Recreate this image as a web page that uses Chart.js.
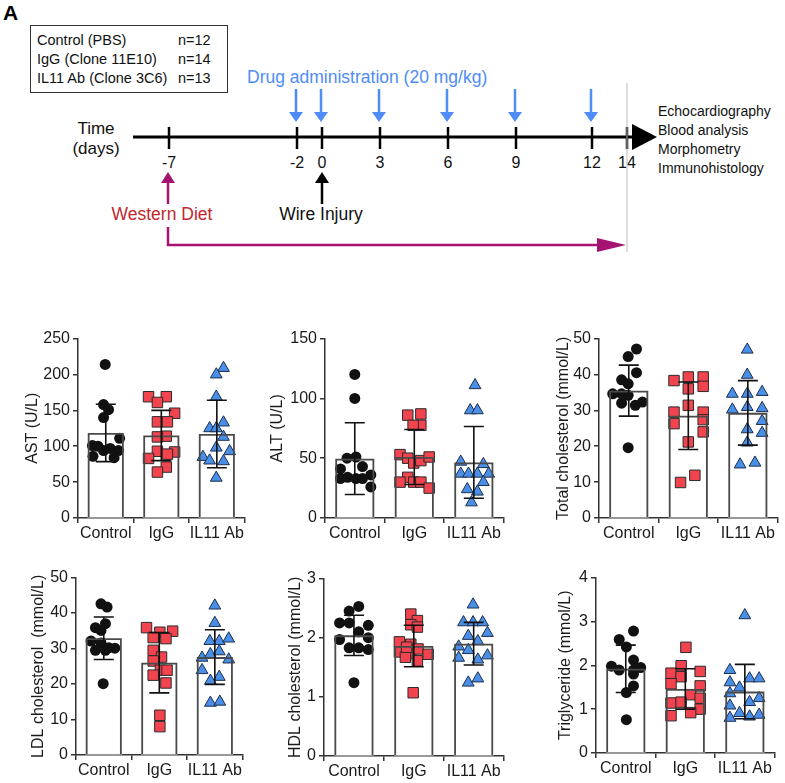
<!DOCTYPE html>
<html>
<head>
<meta charset="utf-8">
<script src="https://cdn.jsdelivr.net/npm/chart.js@4.4.1/dist/chart.umd.min.js"></script>
<style>
  html, body { margin: 0; padding: 0; background: #fff; }
  body { width: 785px; height: 783px; position: relative; overflow: hidden; font-family: "Liberation Sans", Arial, sans-serif; }
  #schema { position: absolute; left: 0; top: 0; }
  .panel { position: absolute; }
</style>
</head>
<body>
<svg id="schema" width="785" height="300" xmlns="http://www.w3.org/2000/svg" font-family="Liberation Sans, Arial, sans-serif">
  <text x="3" y="20" font-size="21" font-weight="bold">A</text>
  <rect x="30.5" y="25.5" width="197" height="67" fill="none" stroke="#333" stroke-width="1"/>
  <g font-size="14.5" fill="#111">
    <text x="37" y="45">Control (PBS)</text><text x="178" y="45">n=12</text>
    <text x="37" y="64">IgG (Clone 11E10)</text><text x="178" y="64">n=14</text>
    <text x="37" y="83">IL11 Ab (Clone 3C6)</text><text x="178" y="83">n=13</text>
  </g>
  <text x="247" y="83" font-size="17.5" fill="#4f8cf6">Drug administration (20 mg/kg)</text>
  <g id="drugArrows" fill="#4f8cf6" stroke="#4f8cf6"></g>
  <line x1="133" y1="137" x2="636" y2="137" stroke="#000" stroke-width="3"/>
  <polygon points="632,124 657,137 632,150" fill="#000"/>
  <g id="dayTicks"></g>
  <g font-size="17" fill="#111" text-anchor="middle">
    <text x="96" y="134">Time</text>
    <text x="96" y="154">(days)</text>
  </g>
  <line x1="627" y1="83" x2="627" y2="252" stroke="#bdbdbd" stroke-width="1"/>
  <g font-size="14" fill="#111">
    <text x="658" y="116">Echocardiography</text>
    <text x="658" y="135">Blood analysis</text>
    <text x="658" y="154">Morphometry</text>
    <text x="658" y="173">Immunohistology</text>
  </g>
  <line x1="168" y1="204" x2="168" y2="181" stroke="#a3136f" stroke-width="2.5"/>
  <polygon points="161,183 175,183 168,172" fill="#a3136f"/>
  <text x="162" y="220" font-size="17.5" fill="#c1272d" text-anchor="middle">Western Diet</text>
  <line x1="322" y1="204" x2="322" y2="181" stroke="#000" stroke-width="2.5"/>
  <polygon points="315,183 329,183 322,172" fill="#000"/>
  <text x="321" y="220" font-size="17.5" fill="#111" text-anchor="middle">Wire Injury</text>
  <polyline points="168,227 168,245 600,245" fill="none" stroke="#a3136f" stroke-width="2.5"/>
  <polygon points="597,238 626,245 597,252" fill="#a3136f"/>
  <text x="3" y="336" font-size="21" font-weight="bold">B</text>
</svg>
<div id="charts"></div>
<script>
// timeline (schematic)
const dayLabels = ['-7', '-2', '0', '3', '6', '9', '12', '14'];
const drugDays = ['-2', '0', '3', '6', '9', '12'];
const dayPos = { '-7': 169, '-2': 297, '0': 322, '3': 380, '6': 448, '9': 516, '12': 592, '14': 627 };

// panel B data
const groupLabels = ['Control', 'IgG', 'IL11 Ab'];

const astValues = [
  [214, 158, 151, 140, 111, 101, 100, 97, 94, 94, 86, 84],
  [169, 169, 161, 146, 134, 134, 114, 113, 93, 92, 89, 83, 71, 64],
  [209, 200, 169, 133, 125, 125, 113, 98, 93, 85, 80, 79, 56]
];
const astJitter = [
  [-0.01, -0.04, 0.05, -0.04, 0.25, -0.24, -0.14, 0.08, -0.04, 0.23, -0.23, 0.15],
  [-0.23, 0.09, -0.07, 0.24, -0.07, 0.11, 0.09, -0.07, -0.07, 0.24, 0.11, -0.23, 0.09, -0.07],
  [0.12, -0.01, -0.01, 0.12, -0.13, -0.01, 0.12, -0.01, 0.23, -0.25, -0.13, 0.12, -0.01]
];
const astMean = [118.5, 115, 117];
const astSd = [40, 35, 47];

const altValues = [
  [120, 100, 50, 51, 41, 43, 33, 34, 33, 33, 36, 26],
  [86, 87, 77.5, 77.5, 53, 50, 46, 48, 51, 34, 30, 30, 30, 25],
  [111, 90, 90, 47, 45, 37, 37, 37, 37, 30, 24, 22, 13]
];
const altJitter = [
  [0, 0, -0.13, 0.02, -0.24, 0.13, -0.24, -0.12, 0.02, 0.13, 0.27, 0.27],
  [-0.11, 0.11, 0.11, -0.02, -0.24, -0.11, -0.01, 0.11, 0.25, -0.11, -0.24, -0.01, 0.11, 0.25],
  [0.02, -0.06, 0.06, -0.22, 0.16, -0.22, -0.09, 0.06, 0.25, 0.16, -0.11, 0.06, -0.04]
];
const altMean = [49.6, 51, 46.5];
const altSd = [30, 23, 30];

const tcValues = [
  [47.1, 45.0, 40.5, 38.5, 37.4, 34.6, 34.2, 32.0, 31.4, 32.3, 19.6, 34.6],
  [38.3, 39.3, 39.3, 36.0, 36.7, 31.4, 29.5, 29.5, 26.3, 27.4, 24.0, 21.2, 11.9, 9.9],
  [46.9, 39.9, 34.6, 34.6, 35.1, 30.9, 30.2, 30.6, 27.0, 24.7, 23.7, 21.0, 14.9, 15.4]
];
const tcJitter = [
  [0.13, -0.01, 0.13, -0.12, -0.01, -0.27, -0.01, -0.12, 0.11, 0.23, -0.01, -0.12],
  [-0.24, 0, 0.25, 0, 0.25, 0, -0.24, 0.25, -0.24, 0.25, 0.25, 0, 0.11, -0.13],
  [-0.01, -0.01, -0.26, -0.01, 0.24, -0.01, -0.26, 0.24, 0.24, -0.01, 0.24, -0.01, -0.13, 0.12]
];
const tcMean = [35.5, 28.5, 29.3];
const tcSd = [7.1, 9.4, 9.0];

const ldlValues = [
  [42.6, 41.7, 35.9, 37.0, 35.1, 32.1, 31.6, 29.5, 29.5, 30.1, 30.2, 20.1],
  [35.9, 34.6, 34.9, 33.1, 32.8, 29.5, 27.6, 26.5, 23.9, 23.9, 22.5, 20.3, 11.2, 8.0],
  [42.1, 37.2, 32.1, 32.1, 32.8, 28.4, 29.2, 27.4, 26.9, 23.9, 22.0, 20.9, 14.7, 15.0]
];
const ldlJitter = [
  [-0.05, 0.06, -0.15, 0.03, -0.05, -0.23, -0.05, -0.15, 0.03, 0.2, 0.09, -0.01],
  [-0.23, 0.01, 0.24, -0.11, 0.12, -0.11, 0.04, -0.11, 0.02, 0.14, -0.11, 0.12, 0.01, 0.01],
  [0, 0, -0.09, 0.08, 0.25, -0.08, 0.08, -0.23, 0.25, -0.23, 0.08, -0.08, -0.08, 0.09]
];
const ldlMean = [32.9, 26, 27.6];
const ldlSd = [6.0, 8.5, 7.7];

const hdlValues = [
  [2.53, 2.45, 2.25, 2.25, 2.21, 2.10, 2.0, 1.97, 1.83, 1.83, 1.80, 1.24],
  [2.40, 2.29, 2.22, 2.18, 1.93, 1.89, 1.76, 1.73, 1.81, 1.67, 1.61, 1.72, 1.07, 1.84],
  [2.56, 2.26, 2.26, 2.26, 2.03, 2.08, 1.94, 1.85, 1.79, 1.66, 1.63, 1.70, 1.24, 1.31]
];
const hdlJitter = [
  [0.08, -0.08, -0.24, -0.08, 0.24, 0.08, 0.24, -0.24, -0.08, 0.08, 0.24, 0],
  [-0.05, 0.06, -0.05, 0.06, -0.24, -0.05, -0.24, -0.05, 0.07, -0.14, 0.06, 0.24, -0.01, -0.12],
  [-0.01, -0.17, -0.01, 0.15, -0.09, 0.23, 0.07, -0.25, -0.09, -0.25, 0.07, 0.23, -0.09, 0.07]
];
const hdlMean = [2.04, 1.86, 1.90];
const hdlSd = [0.34, 0.35, 0.36];

const tgValues = [
  [2.78, 2.59, 2.42, 2.12, 1.98, 1.89, 1.89, 1.95, 1.80, 1.53, 1.38, 0.76],
  [2.41, 1.99, 1.82, 1.74, 1.86, 1.58, 1.53, 1.33, 1.25, 1.14, 1.16, 1.0, 0.92, 0.85],
  [3.14, 1.89, 1.61, 1.70, 1.70, 1.49, 1.36, 1.25, 1.16, 1.08, 0.91, 0.83, 0.87, 0.80]
];
const tgJitter = [
  [0.13, -0.11, 0.01, 0.13, -0.24, -0.11, 0.13, 0.25, 0.13, 0.13, 0.01, 0.01],
  [0.01, -0.07, -0.24, -0.07, 0.25, -0.24, 0.25, 0.09, 0.25, -0.24, -0.07, 0.25, 0.09, -0.24],
  [0, -0.25, -0.25, 0.08, 0.24, -0.09, -0.25, 0.24, 0.08, -0.25, -0.09, 0.08, 0.24, -0.25]
];
const tgMean = [1.92, 1.46, 1.40];
const tgSd = [0.54, 0.46, 0.62];

// draw the schematic ticks and arrows
const svgNS = 'http://www.w3.org/2000/svg';
function svgEl(tag, attrs, parent) {
  const el = document.createElementNS(svgNS, tag);
  Object.entries(attrs).forEach(([k, v]) => el.setAttribute(k, v));
  parent.appendChild(el);
  return el;
}
const tickGroup = document.getElementById('dayTicks');
dayLabels.forEach(d => {
  const x = dayPos[d];
  svgEl('line', { x1: x, y1: 127, x2: x, y2: 149, stroke: '#000', 'stroke-width': 2.5 }, tickGroup);
  const t = svgEl('text', { x: x, y: 168, 'font-size': 16, 'text-anchor': 'middle', fill: '#111' }, tickGroup);
  t.textContent = d;
});
const arrowGroup = document.getElementById('drugArrows');
drugDays.forEach(d => {
  const x = dayPos[d] - 1;
  svgEl('line', { x1: x, y1: 89, x2: x, y2: 113, 'stroke-width': 2.5 }, arrowGroup);
  svgEl('polygon', { points: `${x - 7},112 ${x + 7},112 ${x},122`, stroke: 'none' }, arrowGroup);
});

// bar + scatter panels
const FONT = '"Liberation Sans", Arial, sans-serif';
const TEXT = '#1a1a1a';
const AXIS = '#333';

const groupStyle = [
  { pointStyle: 'circle', radius: 5.5, fill: '#111111', border: '#111111' },
  { pointStyle: 'rect', radius: 7.4, fill: '#f2444f', border: '#2b2b2b' },
  { pointStyle: 'triangle', radius: 6.8, fill: '#4a8fe7', border: '#1d2f4d' }
];

const panels = [
  { title: 'AST (U/L)', values: astValues, jitter: astJitter, mean: astMean, sd: astSd, max: 250, step: 50,
    box: { cl: 23, L: 78, R: 249, T: 338, B: 518 } },
  { title: 'ALT (U/L)', values: altValues, jitter: altJitter, mean: altMean, sd: altSd, max: 150, step: 50,
    box: { cl: 268, L: 325, R: 508, T: 338, B: 518 } },
  { title: 'Total cholesterol (mmol/L)', values: tcValues, jitter: tcJitter, mean: tcMean, sd: tcSd, max: 50, step: 10,
    box: { cl: 554, L: 599, R: 782, T: 338, B: 518 } },
  { title: 'LDL cholesterol  (mmol/L)', values: ldlValues, jitter: ldlJitter, mean: ldlMean, sd: ldlSd, max: 50, step: 10,
    box: { cl: 29, L: 76, R: 247, T: 577, B: 755 } },
  { title: 'HDL cholesterol (mmol/L)', values: hdlValues, jitter: hdlJitter, mean: hdlMean, sd: hdlSd, max: 3, step: 1,
    box: { cl: 286, L: 324, R: 508, T: 578, B: 756 } },
  { title: 'Triglyceride (mmol/L)', values: tgValues, jitter: tgJitter, mean: tgMean, sd: tgSd, max: 4, step: 1,
    box: { cl: 556, L: 596, R: 779, T: 577, B: 753 } }
];

// bar outlines and mean ± SD bars drawn over the points
const errorBars = {
  id: 'errorBars',
  afterDatasetsDraw(chart, args, opts) {
    const { ctx } = chart;
    const x = chart.scales.x, y = chart.scales.y;
    const bars = chart.getDatasetMeta(0).data;
    ctx.save();
    ctx.strokeStyle = '#4a4a4a';
    ctx.lineWidth = 1.8;
    bars.forEach(el => {
      const { x: bx, y: by, base, width } = el.getProps(['x', 'y', 'base', 'width'], true);
      const l = bx - width / 2 + 0.9, r = bx + width / 2 - 0.9, t = by + 0.9;
      ctx.beginPath();
      ctx.moveTo(l, base); ctx.lineTo(l, t); ctx.lineTo(r, t); ctx.lineTo(r, base);
      ctx.stroke();
    });
    ctx.strokeStyle = '#111';
    ctx.lineWidth = 1.6;
    opts.mean.forEach((m, i) => {
      const px = x.getPixelForValue(i);
      const top = y.getPixelForValue(m + opts.sd[i]);
      const bot = y.getPixelForValue(m - opts.sd[i]);
      ctx.beginPath();
      ctx.moveTo(px, top); ctx.lineTo(px, bot);
      ctx.moveTo(px - 10, top); ctx.lineTo(px + 10, top);
      ctx.moveTo(px - 10, bot); ctx.lineTo(px + 10, bot);
      ctx.stroke();
    });
    ctx.restore();
  }
};

const PAD_TOP = 12, PAD_RIGHT = 4, X_AXIS_H = 26;

panels.forEach(p => {
  const b = p.box;
  const w = b.R - b.cl + PAD_RIGHT;
  const h = b.B - b.T + PAD_TOP + X_AXIS_H;
  const holder = document.createElement('div');
  holder.className = 'panel';
  holder.style.left = b.cl + 'px';
  holder.style.top = (b.T - PAD_TOP) + 'px';
  holder.style.width = w + 'px';
  holder.style.height = h + 'px';
  const canvas = document.createElement('canvas');
  canvas.width = w;
  canvas.height = h;
  holder.appendChild(canvas);
  document.getElementById('charts').appendChild(holder);

  const groupWidth = (b.R - b.L) / groupLabels.length;

  const datasets = [{
    type: 'bar',
    data: p.mean.map((m, i) => ({ x: i, y: m })),
    backgroundColor: '#ffffff',
    borderWidth: 0,
    barThickness: Math.round(groupWidth * 0.64),
    order: 3
  }];

  p.values.forEach((vals, g) => {
    const s = groupStyle[g];
    datasets.push({
      type: 'scatter',
      data: vals.map((v, k) => ({ x: g + p.jitter[g][k], y: v })),
      pointStyle: s.pointStyle,
      pointRadius: s.radius,
      backgroundColor: s.fill,
      borderColor: s.border,
      borderWidth: g === 0 ? 0 : 1,
      clip: false,
      order: 2
    });
  });

  new Chart(canvas, {
    type: 'bar',
    data: { datasets: datasets },
    options: {
      responsive: false,
      animation: false,
      devicePixelRatio: 1,
      layout: { padding: { top: PAD_TOP, right: PAD_RIGHT, left: 0, bottom: 0 } },
      plugins: {
        legend: { display: false },
        tooltip: { enabled: false },
        errorBars: { mean: p.mean, sd: p.sd }
      },
      scales: {
        x: {
          type: 'linear',
          offset: false,
          min: -0.5,
          max: 2.5,
          afterBuildTicks: s => { s.ticks = groupLabels.map((_, i) => ({ value: i })); },
          ticks: {
            color: TEXT, font: { family: FONT, size: 16 }, padding: 1, maxRotation: 0, autoSkip: false,
            callback: v => groupLabels[v]
          },
          grid: { drawOnChartArea: false, tickLength: 5, color: AXIS, lineWidth: 1.5 },
          border: { color: AXIS, width: 1.5 },
          afterFit: s => { s.height = X_AXIS_H; }
        },
        y: {
          min: 0,
          max: p.max,
          ticks: { stepSize: p.step, color: TEXT, font: { family: FONT, size: 16 }, padding: 3 },
          grid: { drawOnChartArea: false, tickLength: 5, color: AXIS, lineWidth: 1.5 },
          border: { color: AXIS, width: 1.5 },
          title: { display: true, text: p.title, color: TEXT, font: { family: FONT, size: 16 }, padding: 0 },
          afterFit: s => { s.width = b.L - b.cl; }
        }
      }
    },
    plugins: [errorBars]
  });
});
</script>
</body>
</html>
